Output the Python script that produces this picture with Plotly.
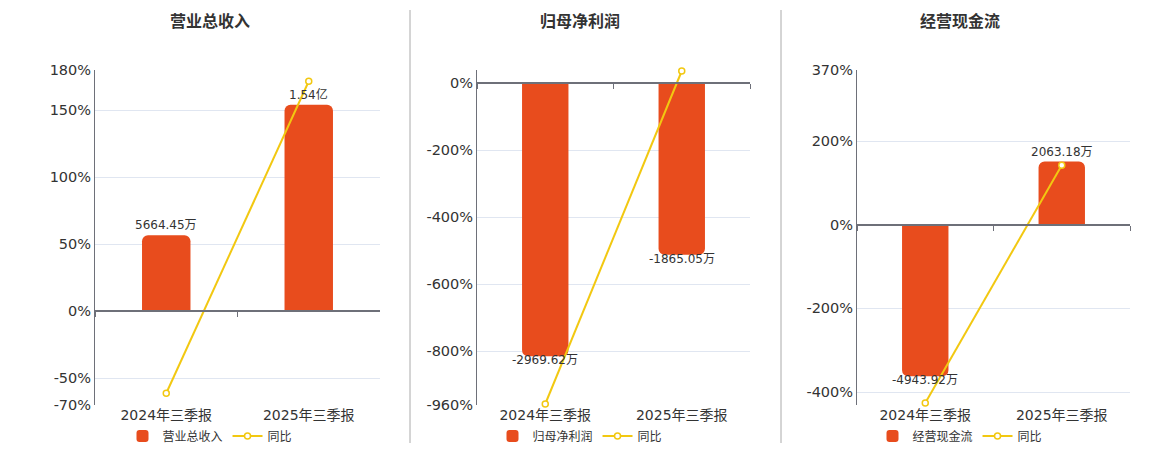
import plotly.graph_objects as go

## data
categories = ["2024年三季报", "2025年三季报"]

revenue = [5664.45, 15400.0]          # 万
revenue_labels = ["5664.45万", "1.54亿"]
revenue_yoy = [-61.2, 171.6]          # %

profit = [-2969.62, -1865.05]
profit_labels = ["-2969.62万", "-1865.05万"]
profit_yoy = [-957.0, 37.0]

cashflow = [-4943.92, 2063.18]
cashflow_labels = ["-4943.92万", "2063.18万"]
cashflow_yoy = [-426.0, 142.0]

titles = ["营业总收入", "归母净利润", "经营现金流"]

### styling
BAR = "#E84C1D"
LINE = "#F2C811"
AXIS = "#6E7079"
GRID = "#E0E6F1"
TXT = "#333333"
FONT = "DejaVu Sans, Noto Sans CJK SC"
W, H = 1160, 450
OX, OY = 8, 8   # page body margin offset

def px_x(v):
    return (v - OX) / W

def px_y(v):
    return (H - (v - OY)) / H

panels = [
    dict(name=titles[0], bars=revenue, labels=revenue_labels, yoy=revenue_yoy,
         xpx=(95, 380), prange=[-70, 180], brange=[-7000, 18000],
         ticks=[180, 150, 100, 50, 0, -50, -70], title_x=210, legend_x=210),
    dict(name=titles[1], bars=profit, labels=profit_labels, yoy=profit_yoy,
         xpx=(477, 750), prange=[-960, 40], brange=[-3500, 146],
         ticks=[40, 0, -200, -400, -600, -800, -960], title_x=580, legend_x=580),
    dict(name=titles[2], bars=cashflow, labels=cashflow_labels, yoy=cashflow_yoy,
         xpx=(857, 1130), prange=[-431, 370], brange=[-5883, 5051],
         ticks=[370, 200, 0, -200, -400, -431], title_x=960, legend_x=960),
]

y_dom = [px_y(405), px_y(70)]

fig = go.Figure()
layout = dict(
    width=W, height=H, margin=dict(l=0, r=0, t=0, b=0, autoexpand=False),
    plot_bgcolor="white", paper_bgcolor="white",
    font=dict(family=FONT, color=TXT, size=14),
    bargap=0.66, annotations=[], shapes=[],
)

for i, p in enumerate(panels):
    n = i + 1
    xa, xb = 2 * n - 1, 2 * n          # base x, overlay x (zero line with ticks)
    ya, yb = 2 * n - 1, 2 * n          # bar axis (hidden), percent axis
    sx = lambda k: "x" if k == 1 else f"x{k}"
    sy = lambda k: "y" if k == 1 else f"y{k}"
    lx = lambda k: "xaxis" if k == 1 else f"xaxis{k}"
    ly = lambda k: "yaxis" if k == 1 else f"yaxis{k}"
    leg = "legend" if n == 1 else f"legend{n}"

    fig.add_trace(go.Bar(
        x=categories, y=p["bars"], name=p["name"], xaxis=sx(xa), yaxis=sy(ya),
        marker=dict(color=BAR, cornerradius=6, line=dict(width=0)),
        legend=leg, hoverinfo="skip",
    ))
    fig.add_trace(go.Scatter(
        x=categories, y=p["yoy"], name="同比", xaxis=sx(xb), yaxis=sy(yb),
        mode="lines+markers", line=dict(color=LINE, width=2),
        marker=dict(size=6, color="white", line=dict(color=LINE, width=1.5)),
        cliponaxis=False, legend=leg, hoverinfo="skip",
    ))

    # value labels on the bars
    for c, v, t in zip(categories, p["bars"], p["labels"]):
        layout["annotations"].append(dict(
            x=c, y=v, xref=sx(xa), yref=sy(ya), text=t, showarrow=False,
            yanchor="bottom" if v >= 0 else "top", yshift=1 if v >= 0 else 5,
            font=dict(size=12, color=TXT)))

    dom = [px_x(p["xpx"][0]), px_x(p["xpx"][1])]
    lo, hi = p["prange"]
    zero_pos = y_dom[0] + (0 - lo) / (hi - lo) * (y_dom[1] - y_dom[0])

    layout[lx(xa)] = dict(domain=dom, anchor=sy(ya), type="category",
                          range=[-0.5, 1.5], showline=False, showgrid=False,
                          ticks="", automargin=False, tickfont=dict(size=14, color=TXT))
    layout[lx(xb)] = dict(overlaying=sx(xa), anchor="free", position=zero_pos,
                          type="category", range=[-0.5, 1.5], tickson="boundaries",
                          showticklabels=False, ticks="outside", ticklen=5,
                          tickcolor=AXIS, tickwidth=1, automargin=False,
                          showline=True, linecolor=AXIS, linewidth=2, showgrid=False)
    layout[ly(ya)] = dict(domain=y_dom, anchor=sx(xa), range=p["brange"],
                          visible=False, showgrid=False, zeroline=False)
    layout[ly(yb)] = dict(overlaying=sy(ya), anchor=sx(xa), side="left",
                          range=p["prange"], tickvals=p["ticks"],
                          ticktext=[("" if (t == p["prange"][1] and n == 2) or
                                    (t == p["prange"][0] and n == 3) else f"{t}%")
                                    for t in p["ticks"]],
                          showgrid=True, gridcolor=GRID, gridwidth=1, automargin=False,
                          zeroline=False, showline=True, linecolor=AXIS, linewidth=1,
                          ticks="", tickfont=dict(size=14.5, color=TXT))
    layout[leg] = dict(orientation="h", x=px_x(p["legend_x"]), xanchor="center",
                       y=px_y(436), yanchor="middle",
                       font=dict(size=12, color=TXT), bgcolor="rgba(0,0,0,0)",
                       itemwidth=30, tracegroupgap=0)
    layout["annotations"].append(dict(
        text=f"<b>{p['name']}</b>", x=px_x(p["title_x"]), y=px_y(22),
        xref="paper", yref="paper", showarrow=False,
        font=dict(size=16, color=TXT), xanchor="center", yanchor="middle"))

for sep in (410, 781):
    layout["shapes"].append(dict(type="line", xref="paper", yref="paper",
                                 x0=px_x(sep), x1=px_x(sep), y0=px_y(443), y1=px_y(10),
                                 line=dict(color="#AAAAAA", width=1)))

fig.update_layout(**layout)

### saving figure
fig.write_html("out.html")
